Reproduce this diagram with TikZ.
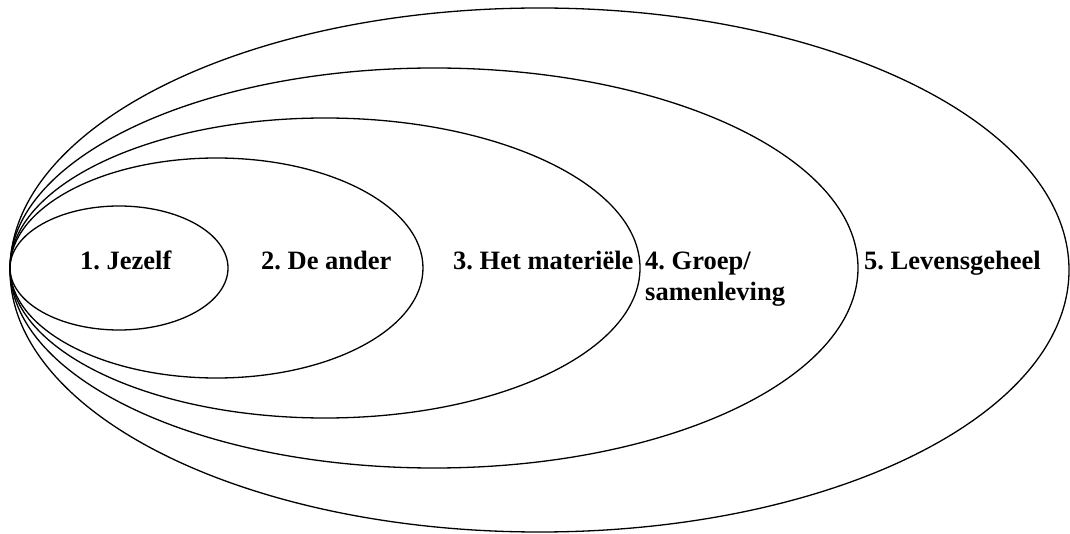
\documentclass[tikz,border=0pt]{standalone}
\usepackage{fontspec}
\setmainfont{Liberation Serif}
\begin{document}
\frenchspacing
\begin{tikzpicture}[x=1pt,y=-1pt,
  ring/.style={draw=black,line width=1.3pt},
  lbl/.style={anchor=base west,inner sep=0pt,font=\fontsize{26.5}{31}\selectfont\bfseries\frenchspacing,align=left}]
\useasboundingbox (0,0) rectangle (1070,534);
\draw[ring] (539.5,270) ellipse [x radius=529.5,y radius=262];
\draw[ring] (434,268) ellipse [x radius=424,y radius=200];
\draw[ring] (325,268) ellipse [x radius=315,y radius=150];
\draw[ring] (216.5,268) ellipse [x radius=206.5,y radius=110];
\draw[ring] (119,268) ellipse [x radius=109,y radius=62];
\node[lbl] (t1) at (80,270) {1. Jezelf};
\node[lbl] (t2) at (261,270) {2. De ander};
\node[lbl] (t3) at (453,270) {3. Het materiële};
\node[lbl] (t4) at (645,301) {4. Groep/\\samenleving};
\node[lbl] (t5) at (864,270) {5. Levensgeheel};
\end{tikzpicture}
\end{document}
